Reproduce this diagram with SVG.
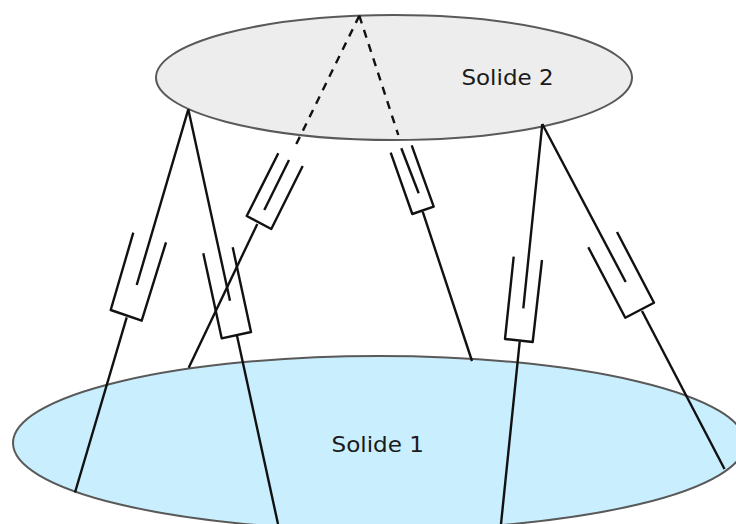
<svg xmlns="http://www.w3.org/2000/svg" width="736" height="524" viewBox="0 0 736 524">
<style>
.solid{stroke:#595959;stroke-width:2}
.label{font-family:"DejaVu Sans",sans-serif;font-size:21.5px;fill:#1a1a1a}
.leg{fill:none;stroke:#111;stroke-width:2.4;stroke-linejoin:round}
.dash{stroke-dasharray:8 7}
</style>
<rect width="736" height="524" fill="#fff"/>
<g id="solide-2"><ellipse class="solid" cx="394" cy="77.5" rx="238" ry="62.5" fill="#ededed"/><text class="label" x="461.5" y="85" textLength="92" lengthAdjust="spacingAndGlyphs">Solide 2</text></g>
<g id="solide-1"><ellipse class="solid" cx="379" cy="443" rx="366" ry="87" fill="#c9efff"/><text class="label" x="331.5" y="452" textLength="92.5" lengthAdjust="spacingAndGlyphs">Solide 1</text></g>
<g id="connectors">
<g id="leg-1" class="leg"><path d="M188.3 109.3L136.7 285"/><path d="M133.3 232.7L110.7 310L141.7 320.7L166 242.3"/><path d="M126.7 317.3L75 492.5"/></g>
<g id="leg-2" class="leg"><path d="M188.3 109.3L230 300.7"/><path d="M203.3 253.3L221.7 338.3L251 332L232.7 247.3"/><path d="M237 335.7L278 524"/></g>
<g id="leg-3" class="leg"><path class="dash" d="M359.3 15.7L295 146.7"/><path d="M278.3 153.3L246.7 216L271.3 229L302.7 166"/><path d="M289 160L264.3 210"/><path d="M257.3 224L188.7 367.7"/></g>
<g id="leg-4" class="leg"><path class="dash" d="M359.3 15.7L398.3 135"/><path d="M390.7 152.7L412.3 214L433.7 206.7L411.7 145.3"/><path d="M401.3 148.3L418.7 193.3"/><path d="M422.7 211.7L472 361"/></g>
<g id="leg-5" class="leg"><path d="M542.3 124L523.3 308.3"/><path d="M513.7 256.7L505 339L532.7 342L542 260"/><path d="M519.7 341.7L501 524"/></g>
<g id="leg-6" class="leg"><path d="M542.3 124L625.7 282"/><path d="M588.3 247.3L625.3 317.7L654 302.7L617 232"/><path d="M642 311L724.5 469"/></g>
</g>
</svg>
